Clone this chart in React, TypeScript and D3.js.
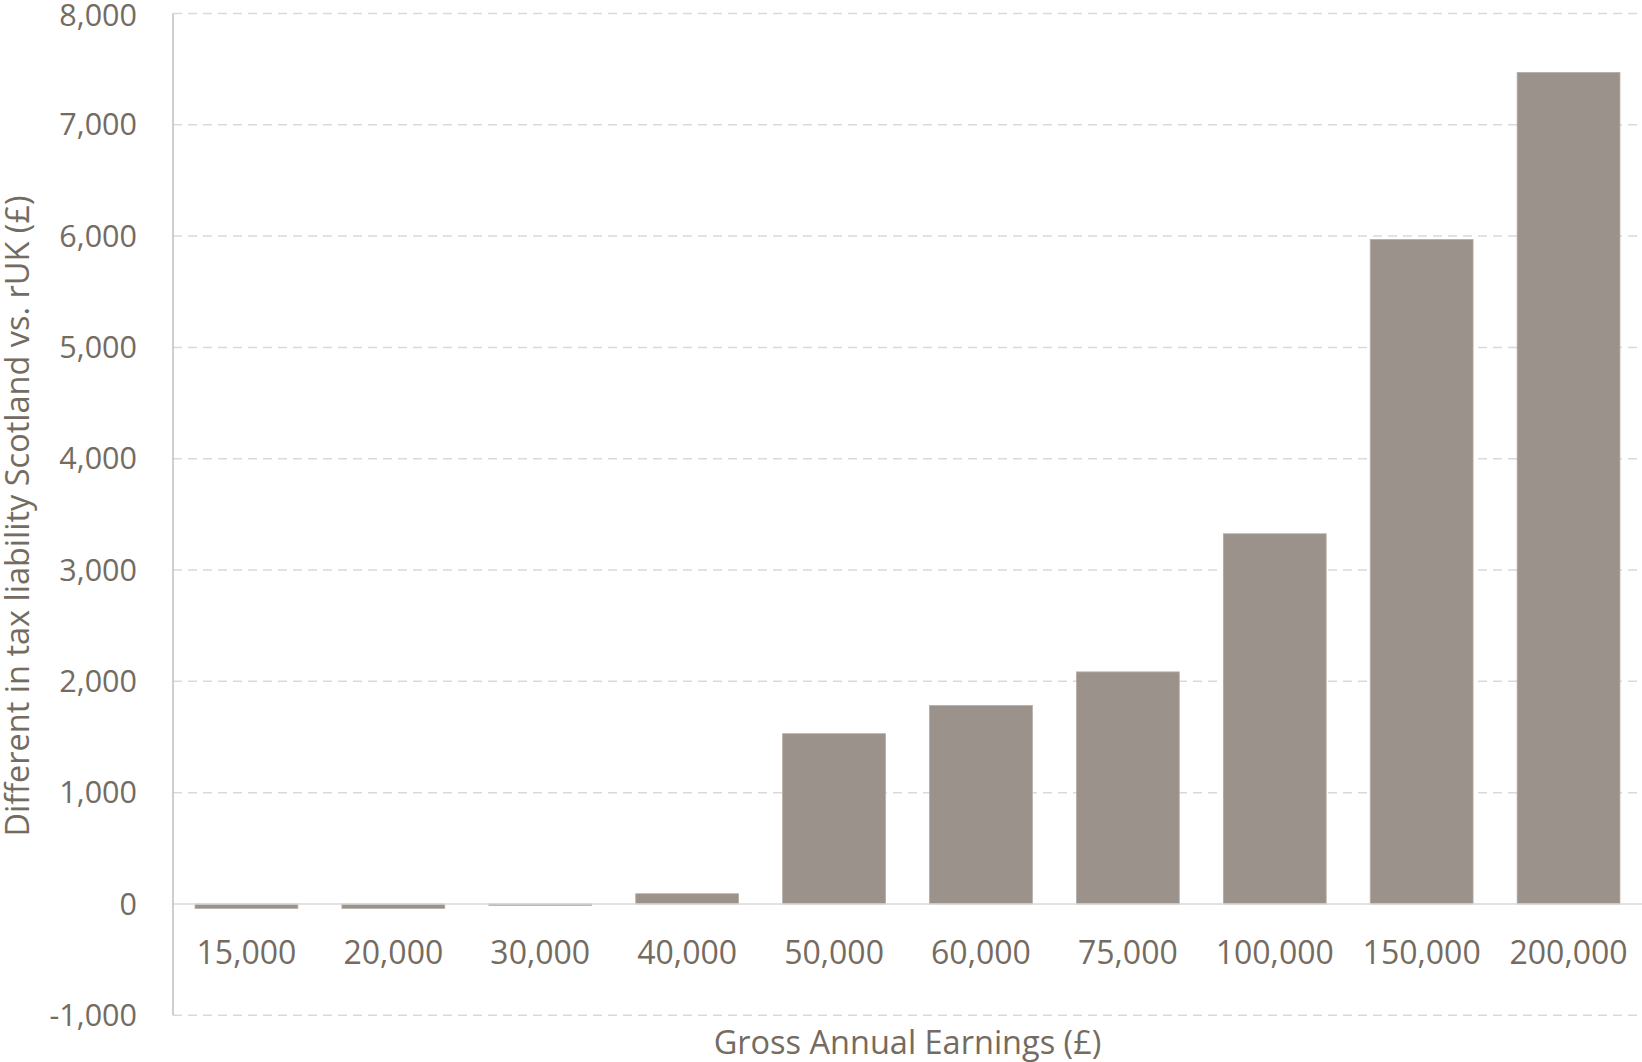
import React from "react";
import * as d3 from "d3";

const categories = ["15,000", "20,000", "30,000", "40,000", "50,000", "60,000", "75,000", "100,000", "150,000", "200,000"];
const values = [-40, -40, -12, 92, 1530, 1783, 2085, 3326, 5969, 7470];
const yTicks = [-1000, 0, 1000, 2000, 3000, 4000, 5000, 6000, 7000, 8000];
const xTitle = "Gross Annual Earnings (£)";
const yTitle = "Different in tax liability Scotland vs. rUK (£)";

const W = 1642;
const H = 1062;
const margin = { left: 173, right: 0, top: 13.5, bottom: 46.7 };
const FONT = "'Open Sans', 'Noto Sans', sans-serif";
const TEXT = "#746b61";
const BAR = "#9b938b";

export default function App() {
  const x = d3
    .scaleBand<string>()
    .domain(categories)
    .range([margin.left, W - margin.right])
    .paddingInner(0.3)
    .paddingOuter(0.15);
  const y = d3.scaleLinear().domain([-1000, 8000]).range([H - margin.bottom, margin.top]);
  const fmt = d3.format(",");

  return (
    <svg
      width={W}
      height={H}
      style={{ position: "absolute", left: 0, top: 0, background: "#fff" }}
      fontFamily={FONT}
    >
      {yTicks.map((t) =>
        t === 0 ? null : (
          <line
            key={"g" + t}
            x1={margin.left}
            x2={W}
            y1={y(t)}
            y2={y(t)}
            stroke="#d9d9d9"
            strokeWidth={1.5}
            strokeDasharray="9 6"
          />
        )
      )}
      {yTicks.map((t) => (
        <text
          key={"t" + t}
          x={137}
          y={y(t) + (t === 8000 ? 1.5 : 0)}
          dy="0.35em"
          textAnchor="end"
          fontSize={30.5}
          fill={TEXT}
        >
          {fmt(t).replace("−", "-")}
        </text>
      ))}
      {categories.map((c, i) => {
        const v = values[i];
        const y0 = y(0);
        const y1 = y(v);
        return (
          <rect
            key={c}
            x={x(c)}
            width={x.bandwidth()}
            y={Math.min(y0, y1)}
            height={Math.abs(y1 - y0)}
            fill={BAR}
            stroke="#b3aca5"
            strokeWidth={0.8}
          />
        );
      })}
      <line x1={margin.left} x2={W} y1={y(0)} y2={y(0)} stroke="#d9d9d9" strokeWidth={1.5} />
      <line
        x1={margin.left}
        x2={margin.left}
        y1={y(8000)}
        y2={y(-1000)}
        stroke="#bfbfbf"
        strokeWidth={1.5}
      />
      {categories.map((c) => (
        <text
          key={"x" + c}
          x={(x(c) as number) + x.bandwidth() / 2}
          y={953}
          dy="0.35em"
          textAnchor="middle"
          fontSize={32}
          fill={TEXT}
        >
          {c}
        </text>
      ))}
      <text
        x={(margin.left + W) / 2}
        y={1043}
        dy="0.35em"
        textAnchor="middle"
        fontSize={32.5}
        fill={TEXT}
      >
        {xTitle}
      </text>
      <text
        transform={`translate(18, 516) rotate(-90)`}
        dy="0.35em"
        textAnchor="middle"
        fontSize={32.5}
        fill={TEXT}
      >
        {yTitle}
      </text>
    </svg>
  );
}
